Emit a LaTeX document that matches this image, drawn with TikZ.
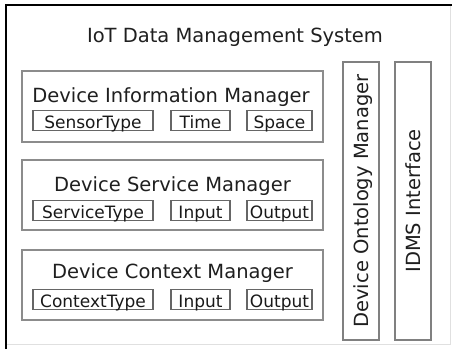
\documentclass[tikz,border=0pt]{standalone}
\usepackage{fontspec}
\setmainfont{DejaVu Sans}
\begin{document}
\begin{tikzpicture}[x=1pt,y=-1pt,
  mgr/.style={draw=black!45,line width=1.1pt,inner sep=0pt,minimum width=301pt},
  sub/.style={draw=black!60,line width=1.1pt,inner sep=0pt,minimum height=20pt,
    text=black!90,font=\fontsize{17}{17}\selectfont,text height=15pt,text depth=0pt},
  ttl/.style={anchor=base,text=black!88,font=\fontsize{19.5}{19.5}\selectfont,inner sep=0pt},
  vbox/.style={draw=black!50,line width=1.1pt,inner sep=0pt,minimum width=36pt,minimum height=278pt},
  vtxt/.style={rotate=90,text=black!88,font=\fontsize{19.5}{19.5}\selectfont,inner sep=0pt,text height=15pt,text depth=0pt}]
\useasboundingbox (0,0) rectangle (452,349);
\fill[white] (0,0) rectangle (452,349);
% outer frame
\draw[black!12,line width=0.8pt] (450,5) -- (450,344) -- (6,344);
\draw[black,line width=2.4pt] (6,349) -- (6,5) -- (452,5);
% title
\node[ttl] (title) at (235,42) {IoT Data Management System};
% managers
\node[mgr,minimum height=71pt] (dim) at (172.5,106.5) {};
\node[mgr,minimum height=70pt] (dsm) at (172.5,195) {};
\node[mgr,minimum height=70pt] (dcm) at (172.5,285) {};
\node[ttl] (dimt) at (171,102) {Device Information Manager};
\node[ttl] (dsmt) at (172.5,191) {Device Service Manager};
\node[ttl] (dcmt) at (172.5,278) {Device Context Manager};
% sub boxes
\node[sub,minimum width=120pt] (st) at (93,120.5) {SensorType};
\node[sub,minimum width=59pt] (time) at (200.5,120.5) {Time};
\node[sub,minimum width=65pt] (space) at (279.5,120.5) {Space};
\node[sub,minimum width=120pt] (svt) at (93,210.5) {ServiceType};
\node[sub,minimum width=59pt] (sin) at (200.5,210.5) {Input};
\node[sub,minimum width=65pt] (sout) at (279.5,210.5) {Output};
\node[sub,minimum width=120pt] (ct) at (93,299.5) {ContextType};
\node[sub,minimum width=59pt] (cin) at (200.5,299.5) {Input};
\node[sub,minimum width=65pt] (cout) at (279.5,299.5) {Output};
% vertical boxes
\node[vbox] (dom) at (361,201) {};
\node[vbox] (idms) at (413,201) {};
\node[vtxt] (domt) at (dom.center) {Device Ontology Manager};
\node[vtxt] (idmst) at (idms.center) {IDMS Interface};
\end{tikzpicture}
\end{document}
